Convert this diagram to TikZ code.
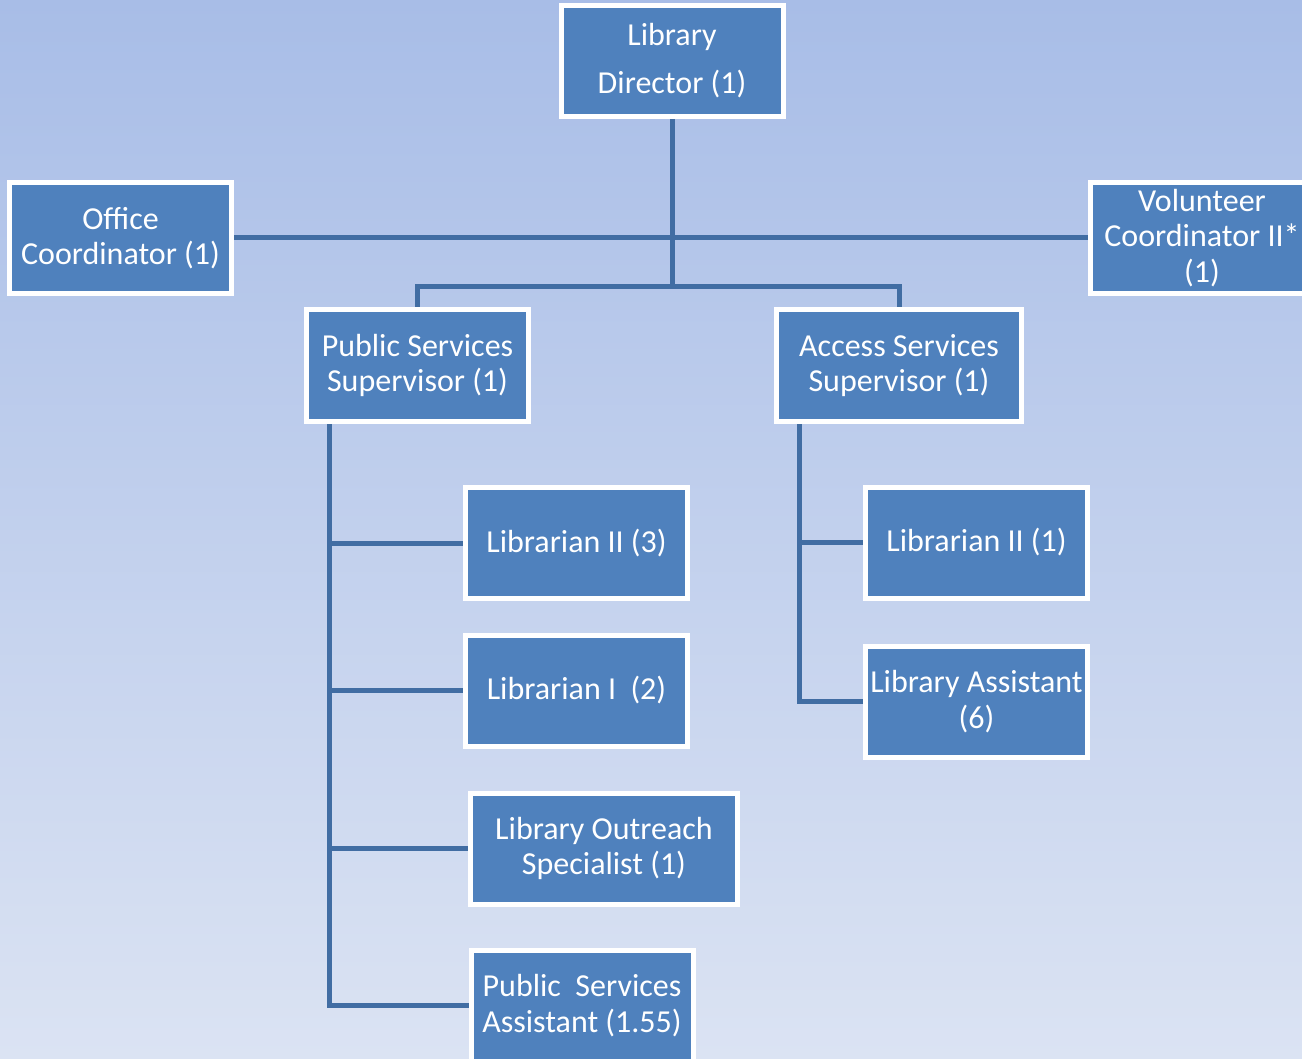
\documentclass[tikz,border=0pt]{standalone}
\usepackage{fontspec}
\setmainfont{Carlito}
\usetikzlibrary{positioning,backgrounds}
\definecolor{boxblue}{HTML}{4F81BD}
\definecolor{linkblue}{HTML}{416DA3}
\definecolor{bgtop}{HTML}{A8BDE7}
\definecolor{bgbottom}{HTML}{DBE3F3}
\tikzset{post/.style={draw=white,line width=5pt,fill=boxblue,text=white,align=center,
    minimum width=222pt,minimum height=111pt,inner sep=0pt,font=\fontsize{32}{35.5}\selectfont},
  link/.style={draw=linkblue,line width=5pt}}

\begin{document}
\begin{tikzpicture}[x=1pt,y=-1pt]
\begin{pgfonlayer}{background}
\fill[top color=bgtop,bottom color=bgbottom](0,0)rectangle(1302,1059);
\end{pgfonlayer}
\useasboundingbox(0,0)rectangle(1302,1059);
\clip(0,0)rectangle(1302,1059);
% top
\node[post,font=\fontsize{32}{48}\selectfont](director)at(672,61){Library\\Director (1)};
\node[post](office)at(120.5,238){Office\\Coordinator (1)};
\node[post,minimum width=224pt](volunteer)at(1202,238){Volunteer\\Coordinator II*\\(1)};
% supervisors
\node[post](pss)at(417.5,365.5){Public Services\\Supervisor (1)};
\node[post,minimum width=245pt](ass)at(899,365.5){Access Services\\Supervisor (1)};
% public services
\node[post](lib2a)at(576.5,543){Librarian II (3)};
\node[post](lib1)at(576.5,690.5){Librarian I\ \ (2)};
\node[post,minimum width=267pt](outreach)at(604,848.5){Library Outreach\\Specialist (1)};
\node[post](psa)at(582,1005.5){Public\ \ Services\\Assistant (1.55)};
% access services
\node[post](lib2b)at(976.5,542.5){Librarian II (1)};
\node[post](libasst)at(976.5,701.5){Library Assistant\\(6)};
\coordinate(bus)at(672,287);
\coordinate(ltrunk)at([xshift=25pt]pss.south west);
\coordinate(rtrunk)at([xshift=25pt]ass.south west);
\begin{pgfonlayer}{background}
\draw[link](office)--(volunteer);
\draw[link](director)--(bus);
\draw[link](pss.north)|-(bus)-|(ass.north);
\foreach \n in {lib2a,lib1,outreach}
  \draw[link](\n.west)--(\n.west-|ltrunk);
\draw[link](ltrunk)|-(psa.west);
\draw[link](lib2b.west)--(lib2b.west-|rtrunk);
\draw[link](rtrunk)|-(libasst.west);
\end{pgfonlayer}
\end{tikzpicture}
\end{document}
